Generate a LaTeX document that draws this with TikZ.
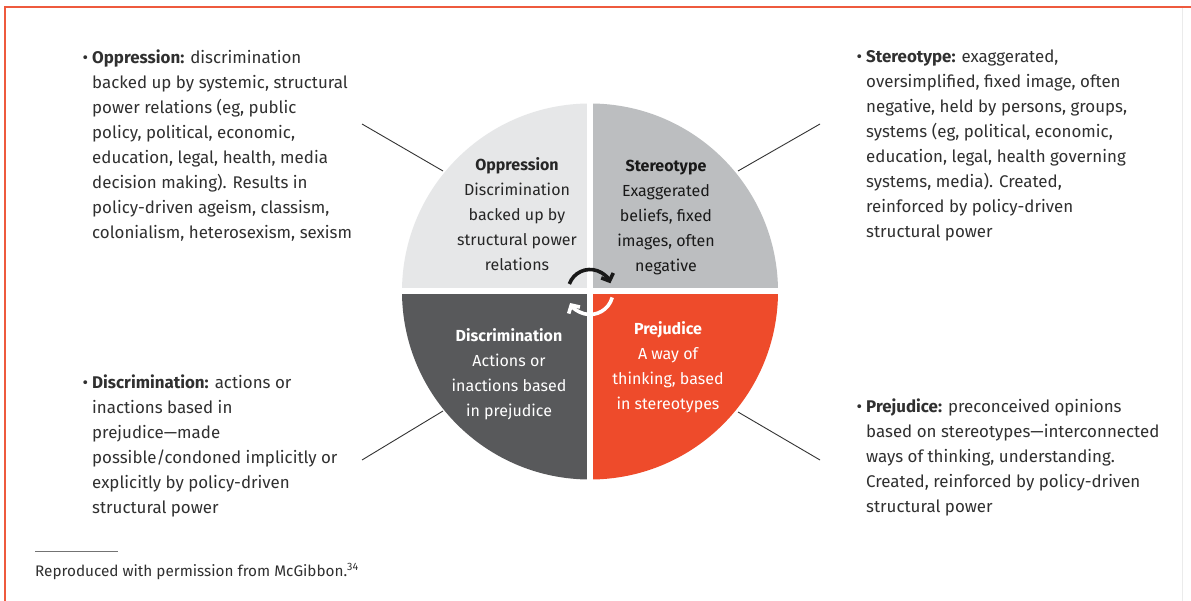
\documentclass[tikz,border=0pt]{standalone}
\usepackage{fontspec}
\setmainfont{Fira Sans}
\usetikzlibrary{arrows.meta}
\definecolor{brd}{HTML}{EE5A3E}
\definecolor{qA}{HTML}{E6E7E8}
\definecolor{qB}{HTML}{BCBEC0}
\definecolor{qC}{HTML}{58595B}
\definecolor{qD}{HTML}{EE4B2B}
\definecolor{txt}{HTML}{303030}
\newcommand{\bul}{\llap{\raisebox{0.5pt}{\fontsize{17}{17}\selectfont\textbullet}\hspace{4pt}}}
\begin{document}
\begin{tikzpicture}[x=1pt,y=-1pt,
  side/.style={anchor=north west, inner sep=0pt, align=left, font=\fontsize{16.9}{25}\selectfont, text=txt},
  seg/.style={inner sep=0pt, align=center, font=\fontsize{16}{25}\selectfont},
  conn/.style={draw=black!80, line width=0.9pt},
  gapline/.style={draw=white, line width=6pt},
  cyc/.style={line width=3.6pt, -{Straight Barb[length=6pt,width=13pt]}}]
\useasboundingbox (0,0) rectangle (1191,601);
\fill[white] (0,0) rectangle (1191,601);
% frame
\draw[black!8, line width=1pt] (1182,8) -- (1182,601);
\draw[brd, line width=2pt] (5,601) -- (5,7.5) -- (1191,7.5);
% quadrants
\coordinate (c) at (590,291.5);
\fill[qA] (c) -- ++(180:188pt) arc[start angle=180, end angle=90, radius=188pt] -- cycle;
\fill[qB] (c) -- ++(90:188pt) arc[start angle=90, end angle=0, radius=188pt] -- cycle;
\fill[qD] (c) -- ++(0:188pt) arc[start angle=0, end angle=-90, radius=188pt] -- cycle;
\fill[qC] (c) -- ++(-90:188pt) arc[start angle=-90, end angle=-180, radius=188pt] -- cycle;
\draw[gapline] (590,95) -- (590,488);
\draw[gapline] (395,291.5) -- (785,291.5);
% cycle arrows
\draw[cyc, black!90] (c) ++(160:22pt) arc[start angle=160, end angle=22, radius=22pt];
\draw[cyc, white] (c) ++(-15:23pt) arc[start angle=-15, end angle=-150, radius=23pt];
% segment texts
\node[seg, text=black!85] (opp) at (517,214) {\textbf{Oppression}\\Discrimination\\backed up by\\structural power\\relations};
\node[seg, text=black!90] (ste) at (666,217.5) {\textbf{Stereotype}\\Exaggerated\\beliefs, fixed\\images, often\\negative};
\node[seg, text=white] (dis) at (509,374) {\textbf{Discrimination}\\Actions or\\inactions based\\in prejudice};
\node[seg, text=white] (pre) at (668,367) {\textbf{Prejudice}\\A way of\\thinking, based\\in stereotypes};
% side texts
\node[side] (oppT) at (92,50) {\bul\textbf{Oppression:} discrimination\\backed up by systemic, structural\\power relations (eg, public\\policy, political, economic,\\education, legal, health, media\\decision making). Results in\\policy-driven ageism, classism,\\colonialism, heterosexism, sexism};
\node[side] (steT) at (866,50) {\bul\textbf{Stereotype:} exaggerated,\\oversimplified, fixed image, often\\negative, held by persons, groups,\\systems (eg, political, economic,\\education, legal, health governing\\systems, media). Created,\\reinforced by policy-driven\\structural power};
\node[side] (disT) at (92,375) {\bul\textbf{Discrimination:} actions or\\inactions based in\\prejudice—made\\possible/condoned implicitly or\\explicitly by policy-driven\\structural power};
\node[side] (preT) at (866,399) {\bul\textbf{Prejudice:} preconceived opinions\\based on stereotypes—interconnected\\ways of thinking, understanding.\\Created, reinforced by policy-driven\\structural power};
% connectors
\coordinate (tl1) at (362,124); \coordinate (tl2) at (443,171);
\coordinate (tr1) at (738,171); \coordinate (tr2) at (820,124);
\coordinate (bl1) at (443,411); \coordinate (bl2) at (362,460);
\coordinate (br1) at (738,412); \coordinate (br2) at (820,460);
\draw[conn] (tl1) -- (tl2);
\draw[conn] (tr1) -- (tr2);
\draw[conn] (bl1) -- (bl2);
\draw[conn] (br1) -- (br2);
% footnote
\coordinate (fn1) at (35,551); \coordinate (fn2) at (118,551);
\draw[black!55, line width=0.8pt] (fn1) -- (fn2);
\node[anchor=base west, inner sep=0pt, text=txt, font=\fontsize{15.3}{18}\selectfont] (src) at (35,576) {Reproduced with permission from McGibbon.\textsuperscript{34}};
\end{tikzpicture}
\end{document}
